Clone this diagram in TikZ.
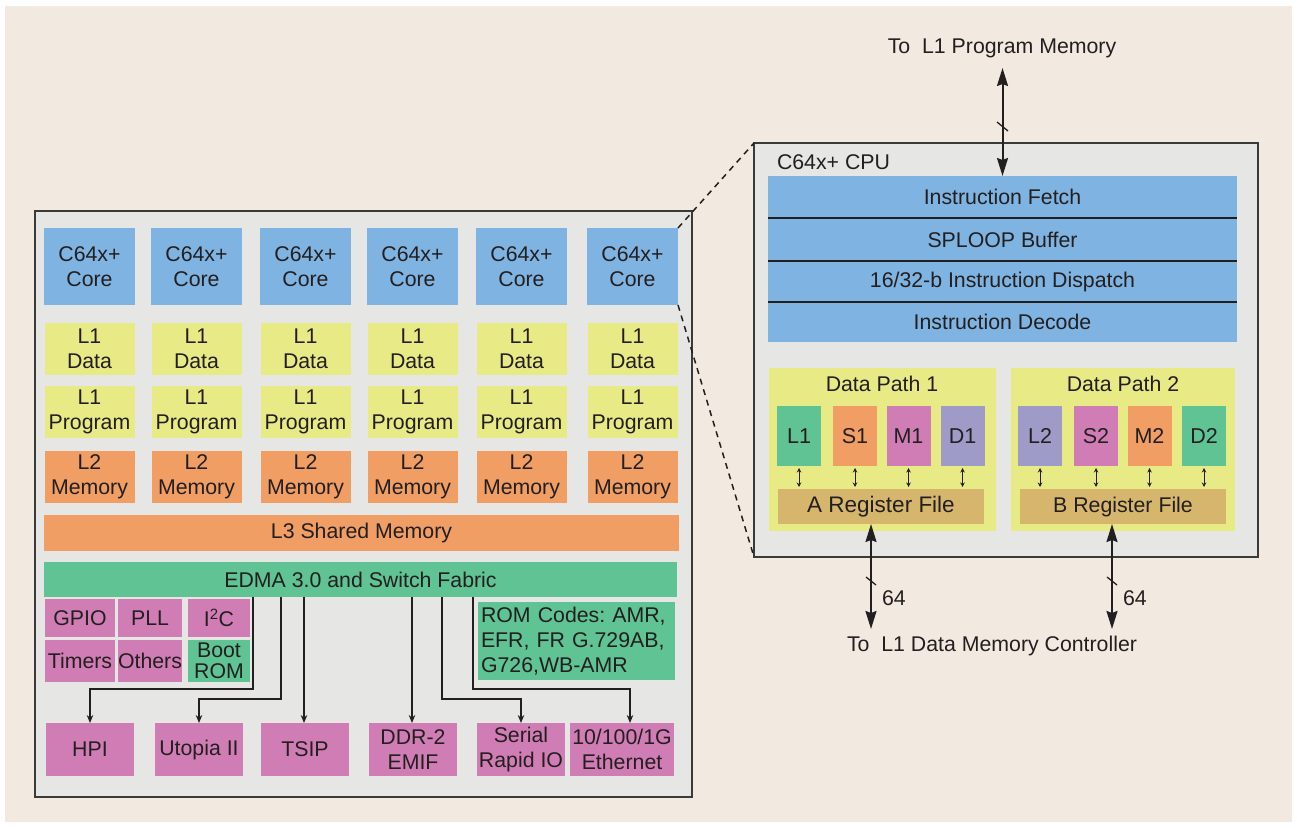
\documentclass[tikz,border=0pt]{standalone}
\usepackage{fontspec}
\setmainfont{Liberation Sans}
\usetikzlibrary{arrows.meta}
\definecolor{bg}{HTML}{F2EAE0}
\definecolor{panel}{HTML}{E6E7E5}
\definecolor{cblue}{HTML}{7FB3E1}
\definecolor{cyel}{HTML}{E8EA85}
\definecolor{corg}{HTML}{F09E64}
\definecolor{cgrn}{HTML}{5FC393}
\definecolor{cpnk}{HTML}{D17DB5}
\definecolor{clav}{HTML}{9E9BC9}
\definecolor{ctan}{HTML}{D5B66C}
\definecolor{ink}{HTML}{231F20}
\definecolor{frame}{HTML}{3A3A3A}
\frenchspacing
\tikzset{
  blk/.style={fill=#1, draw=none, inner sep=0pt, outer sep=0pt, align=center},
  pan/.style={fill=panel, draw=frame, line width=2pt, inner sep=0pt, outer sep=0pt},
  parr/.style={draw=ink, line width=1.4pt, -{Stealth[length=8pt,width=6.5pt]}},
  sarr/.style={draw=ink, line width=1pt, {Stealth[length=4.5pt,width=4.5pt]}-{Stealth[length=4.5pt,width=4.5pt]}},
  bigarr/.style={draw=ink, line width=2pt, {Stealth[length=18pt,width=11pt,inset=2pt]}-{Stealth[length=18pt,width=11pt,inset=2pt]}},
  slash/.style={draw=ink, line width=1.3pt},
  sepline/.style={draw=ink, line width=1.3pt},
  zoomline/.style={draw=ink, line width=1.5pt, dash pattern=on 6pt off 5pt},
  lbl/.style={inner sep=0pt, outer sep=0pt, text=ink}
}
\begin{document}
\begin{tikzpicture}[x=1pt,y=-1pt,
  every node/.style={font=\fontsize{21.3}{24.5}\selectfont, text=ink}]
\useasboundingbox (0,0) rectangle (1297,827);
\fill[white] (0,0) rectangle (1297,827);
\fill[bg] (5,6) rectangle (1292,822);

% ---------------- left SoC panel ----------------
\node[pan, minimum width=657, minimum height=586] (soc) at (363.5,504) {};

\foreach \c [count=\i] in {89.5,196.5,305.5,412.5,521.5,632.5} {
  \node[blk=cblue, minimum width=91, minimum height=77] (core\i) at (\c,266.5) {C64x+\\Core};
  \node[blk=cyel, minimum width=90, minimum height=52] (l1d\i) at (\c,349) {L1\\Data};
  \node[blk=cyel, minimum width=90, minimum height=52] (l1p\i) at (\c,412) {L1\\Program};
  \node[blk=corg, minimum width=90, minimum height=52] (l2\i) at (\c,477) {L2\\Memory};
}
\node[blk=corg, minimum width=635, minimum height=36] (l3) at (361.5,533) {L3 Shared Memory};
\node[blk=cgrn, minimum width=633, minimum height=35] (edma) at (360.5,579.5) {EDMA 3.0 and Switch Fabric};

\node[blk=cpnk, minimum width=70, minimum height=38] (gpio) at (80,618) {GPIO};
\node[blk=cpnk, minimum width=64, minimum height=38] (pll) at (150,618) {PLL};
\node[blk=cpnk, minimum width=62, minimum height=38] (i2c) at (219,618) {I\textsuperscript{2}C};
\node[blk=cpnk, minimum width=70, minimum height=42] (timers) at (80,661) {Timers};
\node[blk=cpnk, minimum width=64, minimum height=42] (others) at (150,661) {Others};
\node[blk=cgrn, minimum width=62, minimum height=42, font=\fontsize{21.3}{21}\selectfont] (boot) at (219,661) {Boot\\ROM};
\node[blk=cgrn, minimum height=78, text width=191, inner xsep=3pt, align=left,
      font=\fontsize{21.3}{25}\selectfont] (rom) at (576.5,641) {ROM Codes: AMR,\\EFR, FR G.729AB,\\G726,WB-AMR};

\node[blk=cpnk, minimum width=88, minimum height=53] (hpi) at (90,749.5) {HPI};
\node[blk=cpnk, minimum width=88, minimum height=53] (utopia) at (199,749.5) {Utopia II};
\node[blk=cpnk, minimum width=88, minimum height=53] (tsip) at (305,749.5) {TSIP};
\node[blk=cpnk, minimum width=88, minimum height=53] (ddr) at (413,749.5) {DDR-2\\EMIF};
\node[blk=cpnk, minimum width=88, minimum height=53] (srio) at (521,749.5) {Serial\\Rapid IO};
\node[blk=cpnk, minimum width=104, minimum height=53] (eth) at (622,749.5) {10/100/1G\\Ethernet};

\draw[parr] ([xshift=-107.5pt]edma.south) -- ++(0,92) -| (hpi.north);
\draw[parr] ([xshift=-79.5pt]edma.south) -- ++(0,102) -| (utopia.north);
\draw[parr] ([xshift=-56.5pt]edma.south) -- ([xshift=-1pt]tsip.north);
\draw[parr] ([xshift=51.5pt]edma.south) -- ([xshift=-1pt]ddr.north);
\draw[parr] ([xshift=81.5pt]edma.south) -- ++(0,102) -| (srio.north);
\draw[parr] ([xshift=112.5pt]edma.south) -- ++(0,92) -| ([xshift=8pt]eth.north);

% ---------------- CPU panel ----------------
\node[pan, minimum width=504, minimum height=414] (cpu) at (1006,350) {};
\node[lbl, anchor=west] (cpulbl) at (777,162.5) {C64x+ CPU};

\node[blk=cblue, minimum width=469, minimum height=42] (ifetch) at (1002.5,197) {Instruction Fetch};
\node[blk=cblue, minimum width=469, minimum height=43] (sploop) at (1002.5,239.5) {SPLOOP Buffer};
\node[blk=cblue, minimum width=469, minimum height=41] (disp) at (1002.5,281.5) {16/32-b Instruction Dispatch};
\node[blk=cblue, minimum width=469, minimum height=40] (dec) at (1002.5,322) {Instruction Decode};
\draw[sepline] (ifetch.south west) -- (ifetch.south east);
\draw[sepline] (sploop.south west) -- (sploop.south east);
\draw[sepline] (disp.south west) -- (disp.south east);

\node[blk=cyel, minimum width=227, minimum height=163] (dp1) at (882.5,449.5) {};
\node[blk=cyel, minimum width=224, minimum height=163] (dp2) at (1123,449.5) {};
\node[lbl] (dp1l) at (882,384) {Data Path 1};
\node[lbl] (dp2l) at (1123,384) {Data Path 2};

\node[blk=ctan, minimum width=206, minimum height=35, font=\fontsize{22.5}{24}\selectfont] (areg) at (881,506.5) {A Register File};
\node[blk=ctan, minimum width=206, minimum height=35, font=\fontsize{21.3}{24}\selectfont] (breg) at (1123,506.5) {B Register File};

\foreach \n/\c/\col in {L1/799/cgrn, S1/855/corg, M1/908.5/cpnk, D1/962.5/clav} {
  \node[blk=\col, minimum width=44, minimum height=60, font=\fontsize{21.5}{24}\selectfont] (u\n) at (\c,436) {\n};
  \draw[sarr] ([yshift=-2pt]u\n.south) -- ([yshift=2pt]u\n.south |- areg.north);
}
\foreach \n/\c/\col in {L2/1040/clav, S2/1096/cpnk, M2/1149.5/corg, D2/1204/cgrn} {
  \node[blk=\col, minimum width=44, minimum height=60, font=\fontsize{21.5}{24}\selectfont] (u\n) at (\c,436) {\n};
  \draw[sarr] ([yshift=-2pt]u\n.south) -- ([yshift=2pt]u\n.south |- breg.north);
}

% external connections
\node[lbl] (pm) at (1002,48) {To\ \ L1 Program Memory};
\draw[bigarr] (ifetch.north) -- ++(0,-108);
\draw[slash] ([shift={(-5.5,-54)}]ifetch.north) -- ([shift={(5.5,-45)}]ifetch.north);

\node[lbl] (dmc) at (992,646) {To\ \ L1 Data Memory Controller};
\draw[bigarr] ([xshift=-10pt]areg.south) -- ++(0,105);
\draw[slash] ([shift={(-15,53)}]areg.south) -- ([shift={(-5,61)}]areg.south);
\node[lbl, anchor=west] (w64a) at ([shift={(1,74)}]areg.south) {64};
\draw[bigarr] ([xshift=-11pt]breg.south) -- ++(0,105);
\draw[slash] ([shift={(-16,53)}]breg.south) -- ([shift={(-6,61)}]breg.south);
\node[lbl, anchor=west] (w64b) at ([shift={(0,74)}]breg.south) {64};

% zoom lines
\draw[zoomline] (core6.north east) -- (cpu.north west);
\draw[zoomline] (core6.south east) -- (cpu.south west);
\end{tikzpicture}
\end{document}
